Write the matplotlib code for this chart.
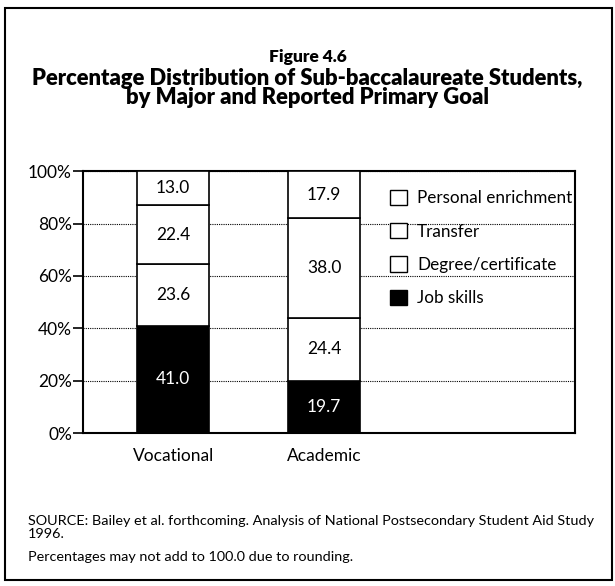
import matplotlib.pyplot as plt
from matplotlib.patches import Rectangle, Patch

plt.rcParams['font.family'] = ['Lato', 'DejaVu Sans']

majors = ['Vocational', 'Academic']
goals = ['Job skills', 'Degree/certificate', 'Transfer', 'Personal enrichment']
job_skills = [41.0, 19.7]
degree_cert = [23.6, 24.4]
transfer = [22.4, 38.0]
personal = [13.0, 17.9]
y_ticks = [0, 20, 40, 60, 80, 100]

series = [job_skills, degree_cert, transfer, personal]
fills = ['black', 'white', 'white', 'white']
label_colors = ['white', 'black', 'black', 'black']

fig = plt.figure(figsize=(6.15, 5.86), dpi=100)
ax = fig.add_axes([0.135, 0.261, 0.8, 0.447])

x = list(range(len(majors)))
bottoms = [0.0] * len(majors)
for vals, fc, tc, name in zip(series, fills, label_colors, goals):
    ax.bar(x, vals, width=0.48, bottom=bottoms, color=fc, edgecolor='black',
           linewidth=1.2, zorder=3, label=name)
    for xi, v, b in zip(x, vals, bottoms):
        ax.text(xi, b + v / 2, f'{v:.1f}', ha='center', va='center',
                fontsize=12.5, color=tc, zorder=4)
    bottoms = [b + v for b, v in zip(bottoms, vals)]

ax.set_xlim(-0.596, 2.66)
ax.set_ylim(0, 100)
ax.set_yticks(y_ticks)
ax.set_yticklabels([f'{t}%' for t in y_ticks], fontsize=12.5)
ax.set_xticks(x)
ax.set_xticklabels(majors, fontsize=12.5)
ax.tick_params(axis='x', length=0, pad=11)
ax.tick_params(axis='y', length=7, width=1.2, pad=1)
ax.yaxis.grid(True, linestyle=(0, (1, 1)), color='black', linewidth=0.8, zorder=0)
for s in ax.spines.values():
    s.set_linewidth(1.5)

# white panel behind the legend hides the gridlines there
ax.add_patch(Rectangle((0.59, 0.45), 0.405, 0.53, transform=ax.transAxes,
                       facecolor='white', edgecolor='none', zorder=1))
handles = [Patch(facecolor=fills[i], edgecolor='black', label=goals[i]) for i in [3, 2, 1, 0]]
leg = ax.legend(handles=handles, loc='upper left', bbox_to_anchor=(0.592, 0.987),
                frameon=False, fontsize=12.3,
                handlelength=1.0, handleheight=1.0, handletextpad=0.6, labelspacing=0.98)
leg.set_zorder(5)

fig.text(0.5, 0.903, 'Figure 4.6', ha='center', va='center', fontsize=12.5, fontweight='heavy')
fig.text(0.5, 0.85, 'Percentage Distribution of Sub-baccalaureate Students,\nby Major and Reported Primary Goal',
         ha='center', va='center', fontsize=15.8, fontweight='heavy', linespacing=0.92)
fig.text(0.045, 0.1, 'SOURCE: Bailey et al. forthcoming. Analysis of National Postsecondary Student Aid Study\n1996.',
         ha='left', va='center', fontsize=10.4, linespacing=1.1)
fig.text(0.045, 0.05, 'Percentages may not add to 100.0 due to rounding.',
         ha='left', va='center', fontsize=10.4)

fig.patches.append(Rectangle((0.008, 0.01), 0.987, 0.976, transform=fig.transFigure,
                             fill=False, edgecolor='black', linewidth=1.5))

fig.savefig('out.png', dpi=100)
